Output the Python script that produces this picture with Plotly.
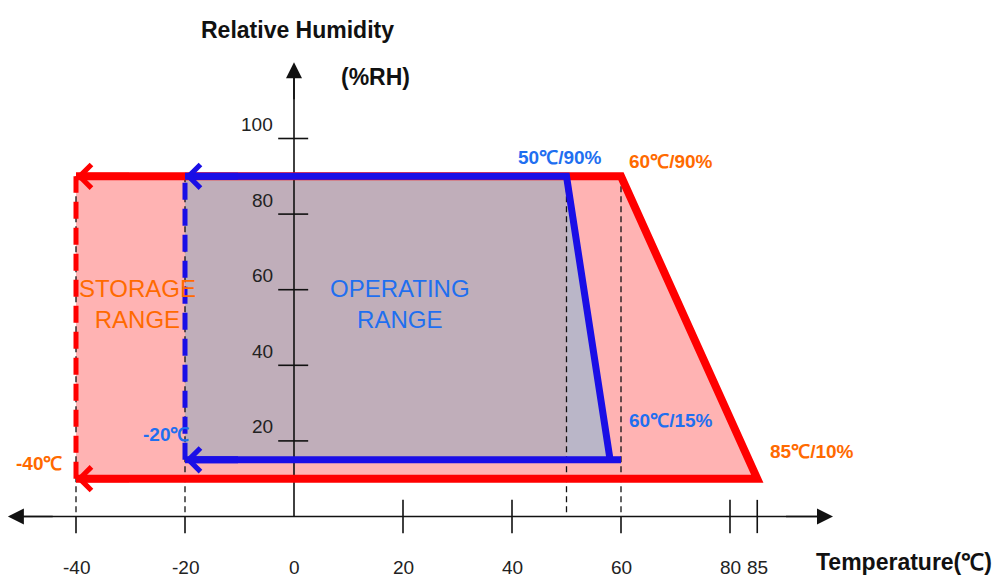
import plotly.graph_objects as go

# ---------------- data ----------------
# Storage range outline (temperature degC, relative humidity %RH)
storage_T = [-40, 60, 85, -40]
storage_RH = [90, 90, 10, 10]
# Operating range outline
operating_T = [-20, 50, 58, 60, -20]
operating_RH = [90, 90, 15, 15, 15]
# axis ticks
x_ticks = [-40, -20, 0, 20, 40, 60, 80, 85]
y_ticks = [20, 40, 60, 80, 100]
# dashed guide lines
guide_T = [-40, -20, 50, 60]
guide_top = 90

RED = "#ff0000"
BLUE = "#1a0ee6"
ORANGE = "#ff6a00"
LBLUE = "#1f6ff0"
PINK = "rgb(255,179,179)"
MAUVE = "rgb(192,174,186)"
GREYBLUE = "rgb(186,182,200)"
FONT = "Liberation Sans, Arial, sans-serif"

fig = go.Figure()

def line(x, y, color, width, dash=None):
    fig.add_trace(go.Scatter(x=x, y=y, mode="lines",
                             line=dict(color=color, width=width, dash=dash),
                             hoverinfo="skip"))

def fill(x, y, color):
    fig.add_trace(go.Scatter(x=x, y=y, mode="lines", fill="toself",
                             fillcolor=color, line=dict(width=0),
                             hoverinfo="skip"))

# fills
fill(storage_T + [storage_T[0]], storage_RH + [storage_RH[0]], PINK)
t0, t1, t2 = operating_T[0], operating_T[1], operating_T[2]
h_top, h_bot = operating_RH[0], operating_RH[2]
fill([t0, t1, t1, t0, t0], [h_bot, h_bot, h_top, h_top, h_bot], MAUVE)
fill([t1, t2, t1, t1], [h_top, h_bot, h_bot, h_top], GREYBLUE)

# black dashed guides
for T in guide_T:
    line([T, T], [guide_top, 0], "#111111", 1.3, "6px,4px")

# axes
line([-52, 97.5], [0, 0], "#111111", 1.6)
line([0, 0], [0, 118.5], "#111111", 1.6)

# x ticks
tx, ty = [], []
for T in x_ticks:
    if T == 0:
        continue
    hi = 0 if T in guide_T else 4.4
    tx += [T, T, None]
    ty += [-4.4, hi, None]
line(tx, ty, "#111111", 1.6)

# y ticks
yx, yy = [], []
for H in y_ticks:
    yx += [-2.9, 2.6, None]
    yy += [H, H, None]
line(yx, yy, "#111111", 1.6)

# range side dashed lines
line([storage_T[0], storage_T[0]], [storage_RH[2], storage_RH[0]], RED, 5, "17px,9px")
line([operating_T[0], operating_T[0]], [operating_RH[2], operating_RH[0]], BLUE, 5, "17px,9px")

# outlines
line(storage_T, storage_RH, RED, 8)
line(operating_T, operating_RH, BLUE, 7)

ann = []

def arrow(x, y, ax, ay, color, width, head, size):
    ann.append(dict(x=x, y=y, ax=ax, ay=ay, xref="x", yref="y", axref="x", ayref="y",
                    text="", showarrow=True, arrowhead=head, arrowwidth=width,
                    arrowsize=size, arrowcolor=color))

arrow(storage_T[0], storage_RH[0], -30, storage_RH[0], RED, 7, 4, 0.65)
arrow(storage_T[3], storage_RH[3], -30, storage_RH[3], RED, 7, 4, 0.65)
arrow(operating_T[0], operating_RH[0], -10, operating_RH[0], BLUE, 7, 4, 0.65)
arrow(operating_T[0], operating_RH[4], -10, operating_RH[4], BLUE, 7, 4, 0.65)
# axis arrowheads
arrow(98.9, 0, 90, 0, "#111111", 1.6, 2, 2.0)
arrow(-52.5, 0, -44, 0, "#111111", 1.6, 2, 2.0)
arrow(0, 120.2, 0, 110, "#111111", 1.6, 2, 2.0)

def text(x, y, s, color, size, bold=False, xanchor="center", yshift=0, xref="x", yref="y"):
    ann.append(dict(x=x, y=y, xref=xref, yref=yref, text=("<b>%s</b>" % s) if bold else s,
                    showarrow=False, xanchor=xanchor, yanchor="middle", yshift=yshift,
                    font=dict(family=FONT, size=size, color=color)))

for T in x_ticks:
    text(T, -13.6, str(T), "#222222", 19)
for H in y_ticks:
    text(-3.4, H, str(H), "#222222", 19, xanchor="right", yshift=14)

text(0.297, 0.948, "Relative Humidity", "#111111", 23, True, xref="paper", yref="paper")
text(0.375, 0.867, "(%RH)", "#111111", 23, True, xref="paper", yref="paper")
text(0.904, 0.028, "Temperature(℃)", "#111111", 23, True, xref="paper", yref="paper")

text(48.8, 95.1, "50℃/90%", LBLUE, 19, True)
text(69.2, 93.8, "60℃/90%", ORANGE, 19, True)
text(69.2, 25.5, "60℃/15%", LBLUE, 19, True)
text(95.0, 17.3, "85℃/10%", ORANGE, 19, True)
text(-46.8, 13.9, "-40℃", ORANGE, 19, True)
text(-23.5, 21.6, "-20℃", LBLUE, 19, True)
text(-28.8, 56.3, "STORAGE<br>RANGE", ORANGE, 24)
text(19.4, 56.2, "OPERATING<br>RANGE", LBLUE, 24)

fig.update_layout(
    width=1000, height=578,
    margin=dict(l=0, r=0, t=0, b=0),
    paper_bgcolor="white", plot_bgcolor="white",
    showlegend=False,
    xaxis=dict(visible=False, range=[-294 / 5.45, 706 / 5.45], fixedrange=True),
    yaxis=dict(visible=False, range=[(516.5 - 578) / 3.78, 516.5 / 3.78], fixedrange=True),
    annotations=ann,
)

fig.write_html("out.html", config={"displayModeBar": False},
               post_script="document.body.style.margin='0';document.body.style.overflow='hidden';")
